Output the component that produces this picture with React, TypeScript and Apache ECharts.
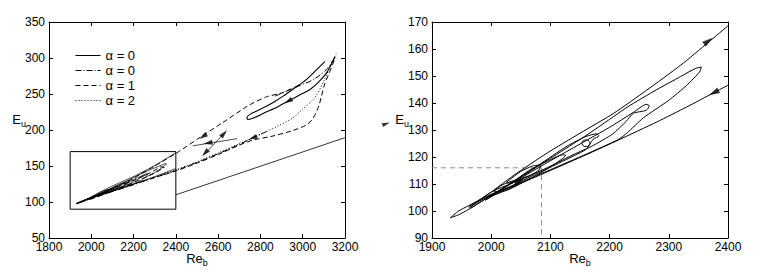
import React, { useEffect, useRef } from "react";
import * as echarts from "echarts";

// ---------- data (Re_b, E_u) ----------
const leftXTicks = [1800, 3200, 200];
const leftYTicks = [50, 350, 50];
const rightXTicks = [1900, 2400, 100];
const rightYTicks = [90, 170, 10];

const legendNames = ["α = 0", "α = 0", "α = 1", "α = 2"];

// solid alpha=0 orbit (left)
const orbitSolid = [[3160,307],[3140,294],[3112,279],[3070,265],[3033,256],[2975,247],[2931,240],[2880,232],[2820,224],[2770,217],[2742,214.5],[2736,217],[2752,222],[2790,227.5],[2828,233],[2870,240],[2907,247],[2960,258],[3017,270],[3070,285],[3105,295]];
// dash-dot alpha=0
const dashDotLower = [[1930,98],[2000,105],[2100,114.5],[2200,124],[2300,134],[2403,144],[2500,155],[2600,167],[2700,180],[2764,189],[2830,198]];
const dashDotUpper = [[3150,300],[3112,284],[3050,270],[2980,261],[2923,254],[2870,247]];
// dashed alpha=1
const dashedUpper = [[1930,98],[2000,106.5],[2100,119],[2200,133],[2300,150],[2403,168],[2513,189.5],[2620,210],[2749,235],[2828,246],[2907,252],[2980,262]];
const dashedLower = [[3160,307],[3142,291],[3122,277],[3104,264],[3088,246],[3073,231],[3048,216],[3017,207],[2950,199],[2850,191],[2764,186],[2700,179],[2600,166],[2500,154],[2403,143.5],[2300,134],[2200,125],[2100,116],[2000,106],[1930,98]];
const dashedBox = [[1945,99.5],[2050,112],[2150,124],[2250,136],[2330,149],[2345,148],[2300,140],[2200,127],[2100,115],[1990,103]];
// dotted alpha=2
const dotted = [[3160,307],[3132,290],[3100,268],[3057,245],[3000,229],[2954,217],[2880,205],[2800,194],[2700,181],[2600,168],[2500,156],[2403,145],[2300,135],[2200,125],[2100,115],[2000,105.5],[1930,98]];
// saddle directions (left)
const crossA = [[2480,178],[2690,188]];
const crossB = [[2535,166],[2633,197]];
const startPoint = [[3160,307]];
const leftArrows = [[2931,240,118],[2764,189,112],[2528,191,123],[2552,182,99],[2538,168,137],[2628,195,-43]];
const zoomBox = [[1900,90],[2400,90],[2400,170],[1900,170],[1900,90]];
const connector = [[2400,110],[3412,210.4]];
const connectorArrow = [[3395,208.7,-71]];

// zoomed spiral (right, also in left box)
const inLine = [[2400,146.6],[2376,143.8],[2330,138.5],[2280,133],[2215,126.3],[2160,120.8],[2100,115],[2050,110.3],[2000,106],[1975,103],[1962,101.2]];
const outLine = [[1962,101.6],[2000,107],[2038,113.2],[2094,121.4],[2150,128.8],[2207,136.2],[2263,144.8],[2320,154],[2367,162.5],[2400,168.6]];
const loop6 = [[1931,97.5],[1945,98.6],[1962,100.6],[2000,105.8],[2050,112.5],[2100,119.5],[2150,126.5],[2184,131.5],[2230,138.5],[2280,145],[2320,149.8],[2345,152.8],[2355,153.3],[2352,151.5],[2330,146.5],[2300,141],[2257,134.5],[2230,129],[2215,126.5],[2160,121],[2100,115.3],[2050,110.6],[2000,106.2],[1962,102],[1945,100],[1931,97.5]];
const loop5 = [[1965,101],[2000,105.8],[2050,112.2],[2100,118.6],[2150,124.8],[2200,131],[2240,136.5],[2262,139.5],[2267,139],[2262,137.3],[2240,136.2],[2228,133.2],[2205,128.5],[2170,124],[2140,121],[2100,116.6],[2050,111.6],[2000,107],[1965,101.5]];
const loop4 = [[1990,104],[2030,109.8],[2080,117],[2128,124],[2160,127.6],[2178,128.6],[2182,127.8],[2172,126.5],[2160,122.8],[2140,120.5],[2100,116.2],[2050,111],[2010,106.5],[1990,104]];
const loopSmall = [[2153,125],[2156,126.2],[2163,126.3],[2167,125],[2164,123.9],[2157,123.9],[2153,125]];
const loop3 = [[1998,105.4],[2030,109.8],[2066,115.3],[2100,119],[2120,120.8],[2126,120.6],[2118,119],[2100,116.3],[2066,112],[2030,108],[1998,105.4]];
const loop2 = [[2025,110.5],[2049,114.5],[2070,116.7],[2083,117],[2081,115.2],[2066,113.2],[2049,112],[2030,110.3],[2025,110.5]];
const loop1 = [[2004,107.5],[2020,109.8],[2040,111.4],[2050,111.6],[2046,110],[2030,108.2],[2010,107],[2004,107.5]];
const rightArrows = [[2367,163,-54],[2376,143.8,117],[2048,111.2,-62]];
const guide = [[1900,116],[2085,116],[2085,90]];

const FONT = "'Liberation Sans', Arial, Helvetica, sans-serif";
const BLACK = "#000";

function axisPair(kind: "x" | "y", grid: number, ticks: number[], name: string, nameGap: number) {
  const [min, max, interval] = ticks;
  const base = {
    type: "value", gridIndex: grid, min, max, interval,
    splitLine: { show: false },
    axisLine: { show: true, onZero: false, lineStyle: { color: BLACK, width: 1 } },
    axisTick: { show: true, inside: true, length: 4, lineStyle: { color: BLACK } },
  };
  const main: any = {
    ...base,
    position: kind === "x" ? "bottom" : "left",
    axisLabel: {
      show: true, color: BLACK, fontFamily: FONT, fontSize: 12, margin: kind === "x" ? 3 : 4,
      lineHeight: kind === "x" ? 12 : 10,
      padding: kind === "y" ? [0, 0, 3, 0] : 0,
      showMinLabel: true, showMaxLabel: true, formatter: (v: number) => String(v),
    },
    name,
    nameLocation: "middle",
    nameGap,
    nameRotate: 0,
    nameMoveOverlap: false,
    nameTextStyle: {
      color: BLACK, fontFamily: FONT, fontSize: 13,
      padding: kind === "y" ? [0, 0, 22, 0] : [0, 0, 0, 0],
      rich: { s: { fontSize: 9, fontFamily: FONT, color: BLACK, padding: [9, 0, 0, 0] }, m: { fontSize: 13, fontFamily: FONT, color: BLACK } },
    },
  };
  const opp: any = { ...base, position: kind === "x" ? "top" : "right", axisLabel: { show: false } };
  return [main, opp];
}

function line(data: number[][], xi: number, type: any, name?: string, width = 1, extra: any = {}) {
  return {
    type: "line", name, xAxisIndex: xi, yAxisIndex: xi, data, symbol: "none", smooth: false,
    lineStyle: { color: BLACK, width, type }, itemStyle: { color: BLACK }, silent: true, z: 3, ...extra,
  };
}

function arrows(data: number[][], xi: number, size: number[] = [5, 9]) {
  return {
    type: "scatter", xAxisIndex: xi, yAxisIndex: xi, clip: false, silent: true, z: 5,
    symbol: "triangle", symbolSize: size,
    itemStyle: { color: BLACK },
    data: data.map((d) => ({ value: [d[0], d[1]], symbolRotate: d[2] })),
  };
}

const DASHDOT = [6, 2, 1, 2];
const DASH = [5, 3];
const DOT = [1, 2];

export default function App() {
  const ref = useRef<HTMLDivElement>(null);
  useEffect(() => {
    if (!ref.current) return;
    const chart = echarts.init(ref.current, undefined, { renderer: "svg" });
    const [lx, lxt] = axisPair("x", 0, leftXTicks, "{m|Re}{s|b}", 11);
    const [ly, lyr] = axisPair("y", 0, leftYTicks, "{m|E}{s|u}", 23);
    const [rx, rxt] = axisPair("x", 1, rightXTicks, "{m|Re}{s|b}", 11);
    const [ry, ryr] = axisPair("y", 1, rightYTicks, "{m|E}{s|u}", 23);
    const spiral = [inLine, outLine, loop6, loop5, loop4, loopSmall, loop3, loop2, loop1];
    const option: any = {
      animation: false,
      backgroundColor: "#fff",
      textStyle: { fontFamily: FONT },
      grid: [
        { left: 49, right: 418, top: 22, bottom: 35, containLabel: false, outerBoundsMode: "none" },
        { left: 432, right: 35, top: 22, bottom: 35, containLabel: false, outerBoundsMode: "none" },
      ],
      xAxis: [lx, lxt, rx, rxt],
      yAxis: [ly, lyr, ry, ryr],
      legend: {
        show: true, orient: "vertical", left: 70, top: 44, itemWidth: 25, itemHeight: 14, itemGap: 2,
        data: ["a0", "a0b", "a1", "a2"],
        formatter: (n: string) => ({ a0: legendNames[0], a0b: legendNames[1], a1: legendNames[2], a2: legendNames[3] } as any)[n],
        textStyle: { color: BLACK, fontFamily: FONT, fontSize: 13 },
        itemStyle: { color: "transparent", borderColor: "transparent", borderWidth: 0, opacity: 0 },
        lineStyle: { width: 1 },
        selectedMode: false,
      },
      series: [
        line(orbitSolid, 0, "solid", "a0", 1.1, { smooth: 0.3 }),
        line(dashDotLower, 0, DASHDOT, "a0b", 1, { smooth: 0.3 }),
        line(dashedUpper, 0, DASH, "a1", 1, { smooth: 0.2 }),
        line(dotted, 0, DOT, "a2", 1, { smooth: 0.3 }),
        line(dashDotUpper, 0, DASHDOT, undefined, 1, { smooth: 0.3 }),
        line(dashedLower, 0, DASH, undefined, 1, { smooth: 0.3 }),
        line(dashedBox, 0, DASH),
        line(crossA, 0, "solid", undefined, 0.7),
        line(crossB, 0, "solid", undefined, 0.7),
        line(zoomBox, 0, "solid", undefined, 1),
        line(connector, 0, "solid", undefined, 0.8, { clip: false }),
        ...spiral.map((d) => line(d, 0, "solid", undefined, 0.7)),
        arrows(leftArrows, 0),
        arrows(connectorArrow, 0, [4, 8]),
        {
          type: "scatter", xAxisIndex: 0, yAxisIndex: 0, data: startPoint, symbol: "emptyCircle", symbolSize: 6,
          itemStyle: { color: "#fff", borderColor: BLACK, borderWidth: 0.8 }, silent: true, z: 6,
        },
        line(guide, 2, [5, 4], undefined, 1, { lineStyle: { color: "#8c8c8c", width: 1, type: [5, 4] }, z: 2 }),
        ...spiral.map((d) => line(d, 2, "solid", undefined, 1, { smooth: 0.2 })),
        arrows(rightArrows, 2, [6, 11]),
      ],
    };
    chart.setOption(option);
    return () => chart.dispose();
  }, []);
  return <div ref={ref} style={{ position: "fixed", left: 0, top: 0, width: 763, height: 273, background: "#fff" }} />;
}
